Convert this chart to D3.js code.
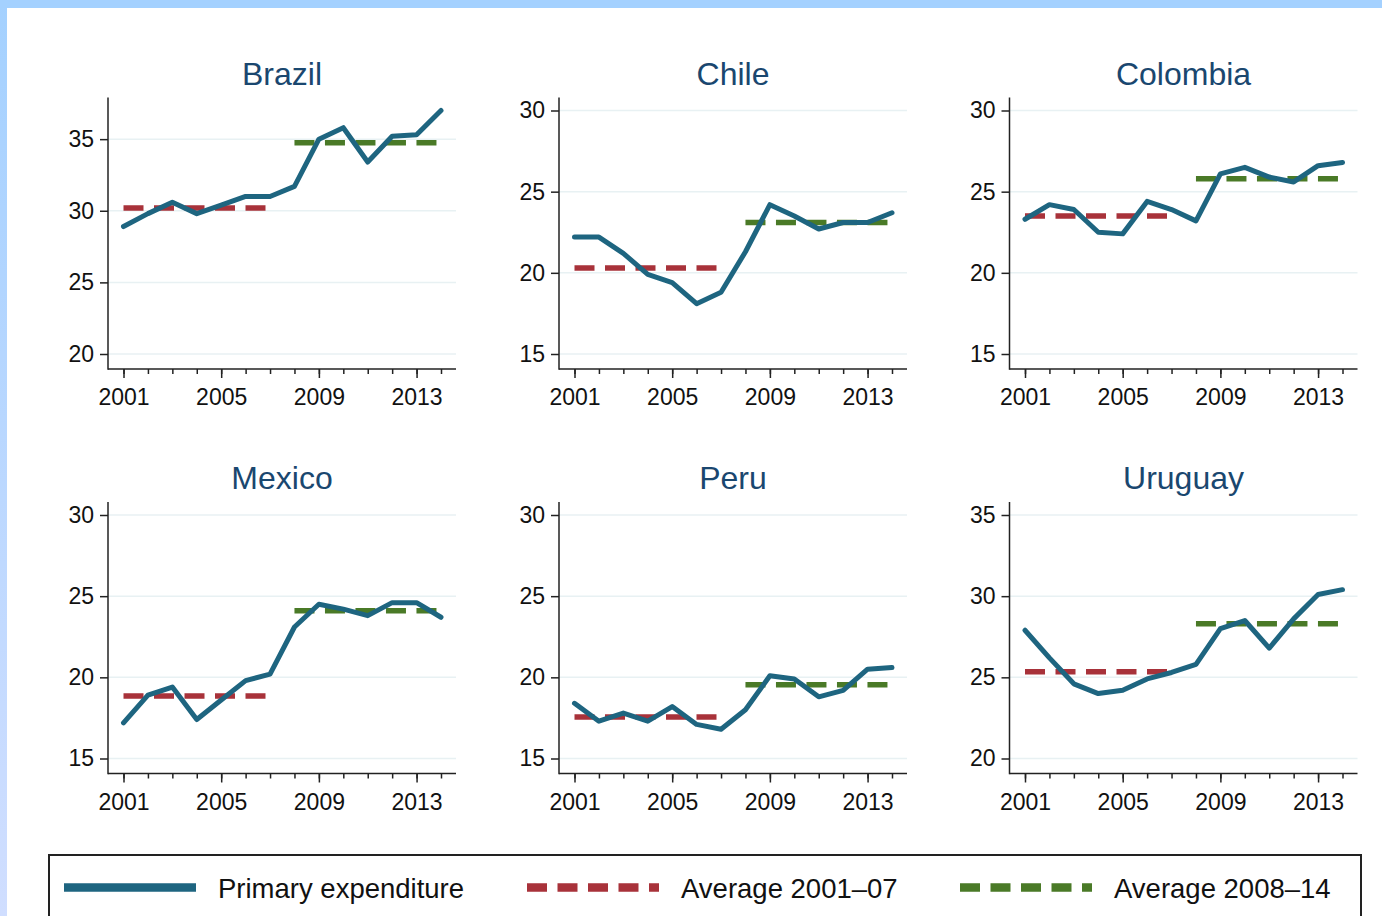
<!DOCTYPE html>
<html>
<head>
<meta charset="utf-8">
<script src="https://cdn.jsdelivr.net/npm/d3@7"></script>
<style>
  body { margin: 0; background: #fff; }
  svg text { font-family: "Liberation Sans", Arial, sans-serif; }
</style>
</head>
<body>
<div id="chart"></div>
<script>
// years on the x axis
var years = d3.range(2001, 2015);
var yearLabels = [2001, 2005, 2009, 2013];

// primary expenditure, % of GDP
var brazil   = [28.9, 29.8, 30.6, 29.8, 30.4, 31.0, 31.0, 31.7, 35.0, 35.8, 33.4, 35.2, 35.3, 37.0];
var chile    = [22.2, 22.2, 21.2, 19.9, 19.4, 18.1, 18.8, 21.3, 24.2, 23.5, 22.7, 23.1, 23.1, 23.7];
var colombia = [23.3, 24.2, 23.9, 22.5, 22.4, 24.4, 23.9, 23.2, 26.1, 26.5, 25.9, 25.6, 26.6, 26.8];
var mexico   = [17.2, 18.9, 19.4, 17.4, 18.6, 19.8, 20.2, 23.1, 24.5, 24.2, 23.8, 24.6, 24.6, 23.7];
var peru     = [18.4, 17.3, 17.8, 17.3, 18.2, 17.1, 16.8, 18.0, 20.1, 19.9, 18.8, 19.2, 20.5, 20.6];
var uruguay  = [27.9, 26.2, 24.6, 24.0, 24.2, 24.9, 25.3, 25.8, 28.0, 28.5, 26.8, 28.6, 30.1, 30.4];

// period averages
var avg0107 = [30.2, 20.3, 23.5, 18.85, 17.55, 25.35];
var avg0814 = [34.75, 23.1, 25.8, 24.1, 19.55, 28.3];

var countries = ["Brazil", "Chile", "Colombia", "Mexico", "Peru", "Uruguay"];
var series = [brazil, chile, colombia, mexico, peru, uruguay];
var yTicks = [
  [20, 25, 30, 35],
  [15, 20, 25, 30],
  [15, 20, 25, 30],
  [15, 20, 25, 30],
  [15, 20, 25, 30],
  [20, 25, 30, 35]
];

var legendLabels = ["Primary expenditure", "Average 2001\u201307", "Average 2008\u201314"];

var width = 1382, height = 916;
var colLine = "#1e6580", colRed = "#a8323a", colGreen = "#4a7a27";

var svg = d3.select("#chart").append("svg")
    .attr("width", width)
    .attr("height", height);

// frame bands
var grad = svg.append("defs").append("linearGradient")
    .attr("id", "leftband").attr("x1", 0).attr("y1", 0).attr("x2", 0).attr("y2", 1);
grad.append("stop").attr("offset", "0%").attr("stop-color", "#a4d1ff");
grad.append("stop").attr("offset", "100%").attr("stop-color", "#d0deff");
svg.append("rect").attr("x", 0).attr("y", 0).attr("width", 7).attr("height", height)
    .attr("fill", "url(#leftband)");
svg.append("rect").attr("x", 0).attr("y", 0).attr("width", width).attr("height", 8)
    .attr("fill", "#a4d1ff");

var colX = [108, 559, 1009.5];
var rowY = [369, 773.5];
var plotW = 348, plotH = 271.5;

countries.forEach(function (name, i) {
    var ax = colX[i % 3], ay = rowY[Math.floor(i / 3)];
    var top = ay - plotH;
    var data = series[i];
    var ticks = yTicks[i];

    var lo = Math.min(ticks[0], d3.min(data));
    var hi = Math.max(ticks[ticks.length - 1], d3.max(data));

    var x = d3.scaleLinear().domain([2001, 2014]).range([ax + 15.5, ax + 333]);
    var y = d3.scaleLinear().domain([lo, hi]).range([ay - 15, top + 13]);

    var g = svg.append("g");

    // grid
    g.selectAll(".grid")
        .data(ticks)
      .enter().append("line")
        .attr("x1", ax).attr("x2", ax + plotW)
        .attr("y1", function (d) { return y(d); })
        .attr("y2", function (d) { return y(d); })
        .attr("stroke", "#e8f1f3")
        .attr("stroke-width", 1.5);

    // y axis
    var yAxis = g.append("g")
        .attr("transform", "translate(" + ax + ",0)")
        .call(d3.axisLeft(y).tickValues(ticks).tickSize(8).tickPadding(6));
    yAxis.select(".domain").remove();

    // x axis: minor ticks every year, labels every four
    var xMinor = g.append("g")
        .attr("transform", "translate(0," + ay + ")")
        .call(d3.axisBottom(x).tickValues(years).tickSize(5).tickFormat(""));
    xMinor.select(".domain").remove();
    var xAxis = g.append("g")
        .attr("transform", "translate(0," + ay + ")")
        .call(d3.axisBottom(x).tickValues(yearLabels).tickSize(9).tickPadding(11)
            .tickFormat(d3.format("d")));
    xAxis.select(".domain").remove();

    g.selectAll(".tick line").attr("stroke", "#222").attr("stroke-width", 1.5);
    g.selectAll(".tick text")
        .attr("fill", "#111")
        .style("font-size", "23px");

    g.append("line")
        .attr("x1", ax).attr("x2", ax)
        .attr("y1", top).attr("y2", ay + 0.75)
        .attr("stroke", "#222").attr("stroke-width", 1.5);
    g.append("line")
        .attr("x1", ax).attr("x2", ax + plotW)
        .attr("y1", ay).attr("y2", ay)
        .attr("stroke", "#222").attr("stroke-width", 1.5);

    // averages
    g.append("line")
        .attr("x1", x(2001)).attr("x2", x(2007))
        .attr("y1", y(avg0107[i])).attr("y2", y(avg0107[i]))
        .attr("stroke", colRed).attr("stroke-width", 5.5)
        .attr("stroke-dasharray", "20 10.5");
    g.append("line")
        .attr("x1", x(2008)).attr("x2", x(2014))
        .attr("y1", y(avg0814[i])).attr("y2", y(avg0814[i]))
        .attr("stroke", colGreen).attr("stroke-width", 5.5)
        .attr("stroke-dasharray", "20 10.5");

    // primary expenditure
    var line = d3.line()
        .x(function (d, j) { return x(years[j]); })
        .y(function (d) { return y(d); });
    g.append("path")
        .datum(data)
        .attr("d", line)
        .attr("fill", "none")
        .attr("stroke", colLine)
        .attr("stroke-width", 5)
        .attr("stroke-linejoin", "round")
        .attr("stroke-linecap", "round");

    // title
    g.append("text")
        .attr("x", ax + plotW / 2)
        .attr("y", top - 13)
        .attr("text-anchor", "middle")
        .attr("fill", "#1a476f")
        .style("font-size", "32px")
        .text(name);
});

// legend
var leg = svg.append("g");
leg.append("rect")
    .attr("x", 49).attr("y", 855)
    .attr("width", 1312).attr("height", 100)
    .attr("fill", "#fff")
    .attr("stroke", "#222").attr("stroke-width", 2);

var legItems = [
    { x: 64, color: colLine, dash: null },
    { x: 527, color: colRed, dash: "20 10.5" },
    { x: 960, color: colGreen, dash: "20 10.5" }
];
legItems.forEach(function (d, i) {
    leg.append("line")
        .attr("x1", d.x).attr("x2", d.x + 132)
        .attr("y1", 887.5).attr("y2", 887.5)
        .attr("stroke", d.color)
        .attr("stroke-width", 8.5)
        .attr("stroke-dasharray", d.dash);
    leg.append("text")
        .attr("x", d.x + 154)
        .attr("y", 898)
        .attr("fill", "#111")
        .style("font-size", "27.5px")
        .text(legendLabels[i]);
});
</script>
</body>
</html>
